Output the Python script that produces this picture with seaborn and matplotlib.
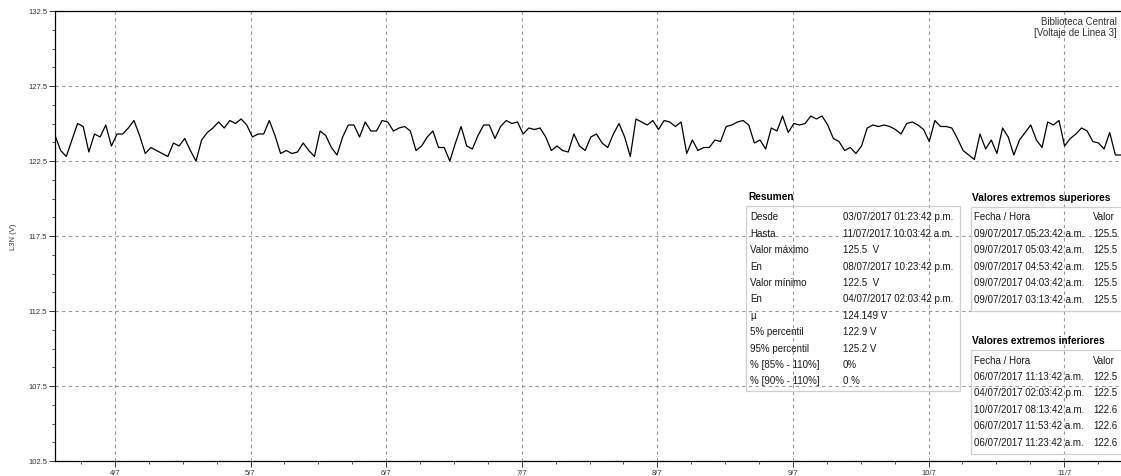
import matplotlib
matplotlib.use("Agg")
import matplotlib.pyplot as plt
import matplotlib.dates as mdates
from matplotlib.patches import Rectangle
from matplotlib.ticker import MultipleLocator
import numpy as np
import pandas as pd
import seaborn as sns

# ---- data -----------------------------------------------------------------
start = "2017-07-03 13:23:42"
end = "2017-07-11 10:03:42"

# L3N voltage (V), roughly hourly readings between start and end
voltage = [
    124.2, 123.2, 122.8, 123.9, 125.0, 124.8, 123.1, 124.3, 124.1, 124.9,
    123.5, 124.3, 124.3, 124.7, 125.2, 124.2, 123.0, 123.4, 123.2, 123.0,
    122.8, 123.7, 123.5, 124.0, 123.2, 122.5, 123.9, 124.4, 124.7, 125.1,
    124.7, 125.2, 125.0, 125.3, 124.9, 124.1, 124.3, 124.3, 125.2, 124.2,
    123.0, 123.2, 123.0, 123.1, 123.7, 123.2, 122.8, 124.5, 124.2, 123.4,
    122.9, 124.1, 124.9, 124.9, 124.1, 125.1, 124.5, 124.5, 125.2, 125.1,
    124.5, 124.7, 124.8, 124.5, 123.2, 123.5, 124.1, 124.5, 123.4, 123.4,
    122.5, 123.7, 124.8, 123.5, 123.3, 124.2, 124.9, 124.9, 124.0, 124.8,
    125.2, 125.0, 125.1, 124.3, 124.7, 124.6, 124.7, 124.1, 123.2, 123.5,
    123.2, 123.1, 124.3, 123.5, 123.2, 124.1, 124.3, 123.7, 123.4, 124.3,
    125.0, 124.1, 122.8, 125.3, 125.1, 124.9, 125.2, 124.6, 125.2, 125.1,
    124.8, 125.1, 123.0, 123.9, 123.2, 123.4, 123.4, 123.9, 123.8, 124.8,
    124.9, 125.1, 125.2, 124.9, 123.7, 123.9, 123.3, 124.7, 124.5, 125.5,
    124.4, 125.0, 124.9, 125.0, 125.5, 125.3, 125.5, 124.9, 124.0, 123.8,
    123.2, 123.4, 123.0, 123.5, 124.7, 124.9, 124.8, 124.9, 124.8, 124.6,
    124.3, 125.0, 125.1, 124.9, 124.6, 123.8, 125.2, 124.8, 124.8, 124.7,
    124.0, 123.2, 122.9, 122.6, 124.3, 123.3, 123.9, 123.0, 124.7, 124.1,
    122.9, 123.9, 124.4, 124.9, 123.9, 123.4, 125.1, 124.9, 125.2, 123.5,
    124.0, 124.3, 124.7, 124.5, 123.8, 123.7, 123.3, 124.4, 122.9, 122.9,
]

y_ticks = [102.5, 107.5, 112.5, 117.5, 122.5, 127.5, 132.5]

summary_labels = ["Desde", "Hasta", "Valor máximo", "En", "Valor mínimo", "En",
                  "µ", "5% percentil", "95% percentil",
                  "% [85% - 110%]", "% [90% - 110%]"]
summary_values = ["03/07/2017 01:23:42 p.m.", "11/07/2017 10:03:42 a.m.",
                  "125.5  V", "08/07/2017 10:23:42 p.m.", "122.5  V",
                  "04/07/2017 02:03:42 p.m.", "124.149 V", "122.9 V",
                  "125.2 V", "0%", "0 %"]

upper_dates = ["09/07/2017 05:23:42 a.m.", "09/07/2017 05:03:42 a.m.",
               "09/07/2017 04:53:42 a.m.", "09/07/2017 04:03:42 a.m.",
               "09/07/2017 03:13:42 a.m."]
upper_values = ["125.5", "125.5", "125.5", "125.5", "125.5"]

lower_dates = ["06/07/2017 11:13:42 a.m.", "04/07/2017 02:03:42 p.m.",
               "10/07/2017 08:13:42 a.m.", "06/07/2017 11:53:42 a.m.",
               "06/07/2017 11:23:42 a.m."]
lower_values = ["122.5", "122.5", "122.6", "122.6", "122.6"]

df = pd.DataFrame({
    "time": pd.date_range(start, end, periods=len(voltage)),
    "L3N": voltage,
})

# ---- style ----------------------------------------------------------------
sns.set_style("ticks")
plt.rcParams["font.family"] = ["Liberation Sans", "DejaVu Sans"]

W, H = 1121, 477
fig = plt.figure(figsize=(W / 100, H / 100), dpi=100)
fig.patch.set_facecolor("white")


def fx(px):
    return px / W


def fy(py):
    return 1 - py / H


ax = fig.add_axes([fx(55), fy(462), fx(W - 55), (462 - 12) / H])
sns.lineplot(data=df, x="time", y="L3N", ax=ax, color="black",
             linewidth=0.9, legend=False)

ax.set_xlim(df["time"].iloc[0], df["time"].iloc[-1])
ax.set_ylim(102.5, 132.5)
ax.set_yticks(y_ticks)
ax.set_yticklabels([f"{v:.1f}" for v in y_ticks])
ax.yaxis.set_minor_locator(MultipleLocator(1.25))
ax.xaxis.set_major_locator(mdates.DayLocator())
ax.xaxis.set_major_formatter(mdates.DateFormatter("%-d/%-m"))
ax.xaxis.set_minor_locator(mdates.HourLocator(byhour=[6, 12, 18]))

ax.grid(True, which="major", linestyle=(0, (3, 3)), color="#9a9a9a",
        linewidth=0.8)
ax.tick_params(which="major", length=4, width=0.7, color="#333333",
               labelsize=5.5, labelcolor="#333344", pad=1.5)
ax.tick_params(which="minor", length=2.5, width=0.6, color="#333333")

ax.set_xlabel("")
ax.set_ylabel("L3N (V)", fontsize=5.5, color="#333344")
ax.yaxis.set_label_coords(-0.036, 0.5)

for side in ["left", "bottom", "top"]:
    ax.spines[side].set_color("black")
    ax.spines[side].set_linewidth(0.9)
ax.spines["right"].set_visible(False)

# ---- annotation header ----------------------------------------------------
fig.text(fx(1117), fy(22), "Biblioteca Central", ha="right", va="center",
         fontsize=7, color="#333333")
fig.text(fx(1117), fy(33), "[Voltaje de Linea 3]", ha="right", va="center",
         fontsize=7, color="#333333")

# ---- summary tables -------------------------------------------------------
box_color = "#cfcfcf"
txt_color = "#1a1a1a"


def frame(x0, y0, x1, y1):
    fig.patches.append(Rectangle((fx(x0), fy(y1)), fx(x1 - x0), (y1 - y0) / H,
                                 transform=fig.transFigure, fill=False,
                                 edgecolor=box_color, linewidth=0.9))


# Resumen
fig.text(fx(748), fy(197), "Resumen", ha="left", va="center", fontsize=7.3,
         fontweight="bold", color="black")
frame(746, 207, 960, 392)
rows_y = np.linspace(217.5, 381.5, len(summary_labels))
for yy, lab, val in zip(rows_y, summary_labels, summary_values):
    fig.text(fx(750), fy(yy), lab, ha="left", va="center", fontsize=7,
             color=txt_color)
    fig.text(fx(843), fy(yy), val, ha="left", va="center", fontsize=7,
             color=txt_color)


def extremes(title, top, dates, values):
    fig.text(fx(972), fy(top - 10), title, ha="left", va="center",
             fontsize=7.3, fontweight="bold", color="black")
    frame(971, top, W + 5, top + 104)
    ys = [top + 9.5 + 16.5 * i for i in range(len(dates) + 1)]
    fig.text(fx(974), fy(ys[0]), "Fecha / Hora", ha="left", va="center",
             fontsize=7, color=txt_color)
    fig.text(fx(1093), fy(ys[0]), "Valor", ha="left", va="center",
             fontsize=7, color=txt_color)
    for yy, d, v in zip(ys[1:], dates, values):
        fig.text(fx(974), fy(yy), d, ha="left", va="center", fontsize=7,
                 color=txt_color)
        fig.text(fx(1093), fy(yy), v, ha="left", va="center", fontsize=7,
                 color=txt_color)


extremes("Valores extremos superiores", 208, upper_dates, upper_values)
extremes("Valores extremos inferiores", 351, lower_dates, lower_values)

fig.savefig("out.png", dpi=100, facecolor="white")
